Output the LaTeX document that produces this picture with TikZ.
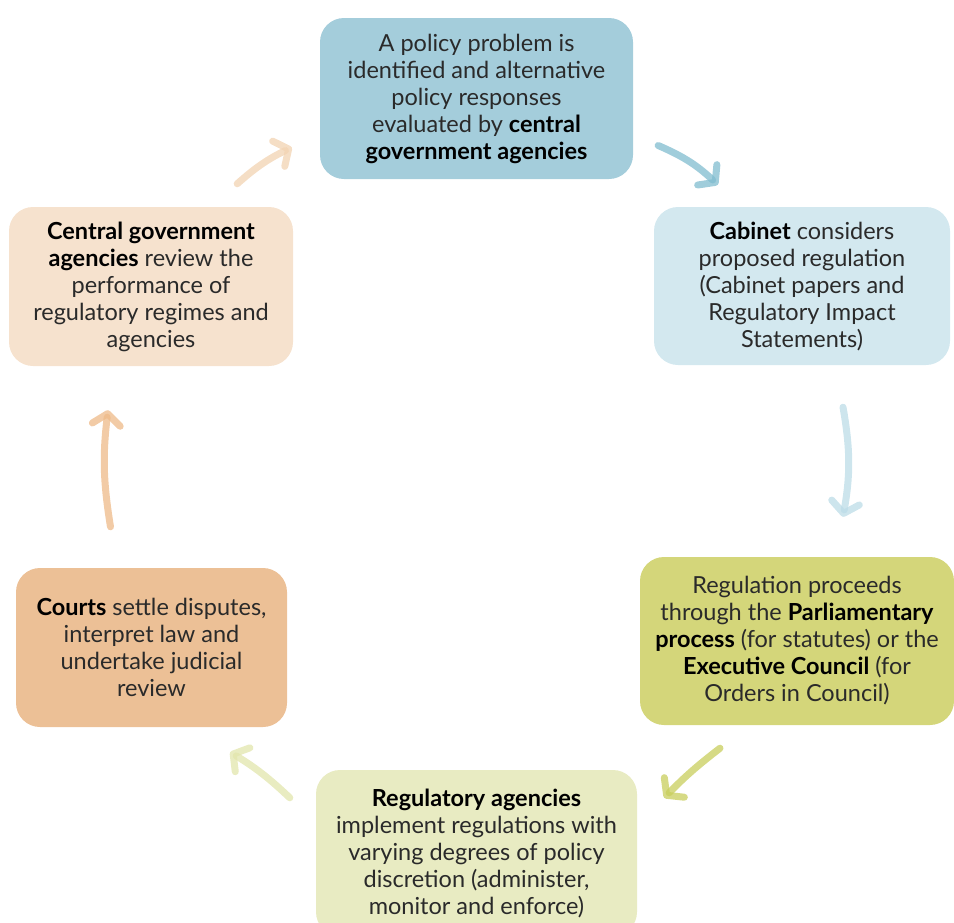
\documentclass[tikz,border=0pt]{standalone}
\usepackage{fontspec}
\setmainfont{Lato}
\usetikzlibrary{arrows.meta}
\definecolor{probfill}{HTML}{A4CDDB}
\definecolor{cabfill}{HTML}{D3E8EF}
\definecolor{parlfill}{HTML}{D4D67A}
\definecolor{regfill}{HTML}{E8EBC2}
\definecolor{courtfill}{HTML}{ECC096}
\definecolor{revfill}{HTML}{F6E2CE}
\definecolor{txt}{HTML}{2A2A2A}

\begin{document}
\begin{tikzpicture}[x=1pt, y=-1pt,
    stage/.style={rounded corners=24pt, align=center, text=txt, inner sep=0pt,
        font=\fontsize{23.5}{27}\selectfont},
    arr/.style={line width=7pt, line cap=round, draw opacity=0.75,
        -{Straight Barb[length=11pt, width=28pt, round]}}]
    \useasboundingbox (0,0) rectangle (954,922);
    \node[stage, fill=probfill, minimum width=313pt, minimum height=161pt] (prob) at (476.5,98.5)
        {A policy problem is\\identified and alternative\\policy responses\\evaluated by \textcolor{black}{\bfseries central}\\\textcolor{black}{\bfseries government agencies}};
    \node[stage, fill=cabfill, minimum width=296pt, minimum height=158pt] (cab) at (802,286)
        {\textcolor{black}{\bfseries Cabinet} considers\\proposed regulation\\(Cabinet papers and\\Regulatory Impact\\Statements)};
    \node[stage, fill=parlfill, minimum width=314pt, minimum height=168pt] (parl) at (797,641)
        {Regulation proceeds\\through the \textcolor{black}{\bfseries Parliamentary}\\\textcolor{black}{\bfseries process} (for statutes) or the\\\textcolor{black}{\bfseries Executive Council} (for\\Orders in Council)};
    \node[stage, fill=regfill, minimum width=321pt, minimum height=166pt] (reg) at (476.5,853)
        {\textcolor{black}{\bfseries Regulatory agencies}\\implement regulations with\\varying degrees of policy\\discretion (administer,\\monitor and enforce)};
    \node[stage, fill=courtfill, minimum width=271pt, minimum height=159pt] (courts) at (151.5,647.5)
        {\textcolor{black}{\bfseries Courts} settle disputes,\\interpret law and\\undertake judicial\\review};
    \node[stage, fill=revfill, minimum width=284pt, minimum height=159pt] (rev) at (151,286.5)
        {\textcolor{black}{\bfseries Central government}\\\textcolor{black}{\bfseries agencies} review the\\performance of\\regulatory regimes and\\agencies};
    \draw[arr, color={rgb,255:red,242;green,211;blue,178}]
        ([xshift=-56pt,yshift=23pt]rev.north east) to[bend left=8] ([xshift=-28pt,yshift=-49pt]prob.west);
    \draw[arr, color={rgb,255:red,128;green,188;blue,207}]
        ([xshift=25pt,yshift=-47pt]prob.east) to[bend left=10] ([xshift=64pt,yshift=22pt]cab.north west);
    \draw[arr, color={rgb,255:red,188;green,220;blue,231}]
        ([xshift=41pt,yshift=-42pt]cab.south) to[bend left=10] ([xshift=46pt,yshift=40pt]parl.north);
    \draw[arr, color={rgb,255:red,200;green,206;blue,92}]
        ([xshift=-77pt,yshift=-23pt]parl.south) to[bend right=4] ([xshift=27pt,yshift=-28pt]reg.north east);
    \draw[arr, color={rgb,255:red,226;green,229;blue,172}]
        ([xshift=-26pt,yshift=-28pt]reg.north west) to[bend right=6] ([xshift=-57pt,yshift=-25pt]courts.south east);
    \draw[arr, color={rgb,255:red,238;green,186;blue,136}]
        ([xshift=-41pt,yshift=41pt]courts.north) to[bend left=8] ([xshift=-43pt,yshift=-44pt]rev.south);
\end{tikzpicture}
\end{document}
